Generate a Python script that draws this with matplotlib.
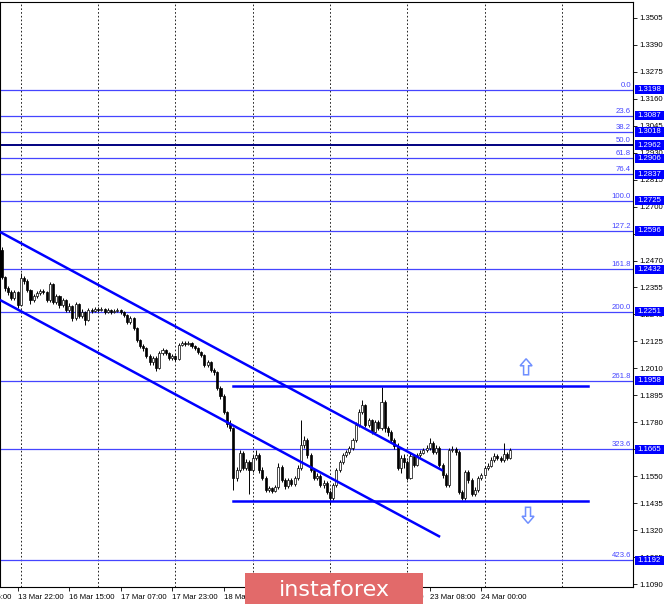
import matplotlib
matplotlib.use('Agg')
import matplotlib.pyplot as plt
from matplotlib.patches import Rectangle, Polygon
from matplotlib.transforms import Affine2D, ScaledTranslation, blended_transform_factory

# ---------------- data ----------------
first_open = 1.2515
closes = [1.2400, 1.2353, 1.2336, 1.2310, 1.2336, 1.2280, 1.2395, 1.2383, 1.2344, 1.2302,
          1.2319, 1.2332, 1.2340, 1.2336, 1.2302, 1.2370, 1.2293, 1.2319, 1.2280, 1.2302,
          1.2259, 1.2276, 1.2225, 1.2285, 1.2234, 1.2250, 1.2217, 1.2259, 1.2255, 1.2263,
          1.2259, 1.2263, 1.2250, 1.2259, 1.2250, 1.2255, 1.2259, 1.2250, 1.2238, 1.2208,
          1.2225, 1.2183, 1.2131, 1.2106, 1.2097, 1.2063, 1.2038, 1.2055, 1.2012, 1.2076,
          1.2089, 1.2076, 1.2055, 1.2063, 1.2050, 1.2110, 1.2119, 1.2114, 1.2119, 1.2106,
          1.2097, 1.2080, 1.2067, 1.2025, 1.2038, 1.2004, 1.1995, 1.1927, 1.1893, 1.1824,
          1.1773, 1.1756, 1.1544, 1.1578, 1.1650, 1.1586, 1.1612, 1.1578, 1.1629, 1.1641,
          1.1578, 1.1544, 1.1492, 1.1501, 1.1488, 1.1505, 1.1590, 1.1535, 1.1510, 1.1535,
          1.1518, 1.1544, 1.1586, 1.1684, 1.1705, 1.1641, 1.1578, 1.1544, 1.1552, 1.1514,
          1.1522, 1.1484, 1.1458, 1.1514, 1.1578, 1.1612, 1.1641, 1.1654, 1.1671, 1.1705,
          1.1769, 1.1824, 1.1854, 1.1769, 1.1790, 1.1739, 1.1782, 1.1756, 1.1867, 1.1756,
          1.1739, 1.1705, 1.1680, 1.1586, 1.1629, 1.1612, 1.1544, 1.1637, 1.1599, 1.1641,
          1.1650, 1.1663, 1.1671, 1.1692, 1.1654, 1.1671, 1.1599, 1.1556, 1.1514, 1.1663,
          1.1667, 1.1654, 1.1484, 1.1458, 1.1569, 1.1535, 1.1475, 1.1492, 1.1544, 1.1556,
          1.1586, 1.1595, 1.1620, 1.1637, 1.1629, 1.1620, 1.1646, 1.1629, 1.1663]
highs = [1.2528, 1.2405, 1.2362, 1.2345, 1.2345, 1.2340, 1.2417, 1.2405, 1.2390, 1.2350,
         1.2327, 1.2340, 1.2348, 1.2350, 1.2340, 1.2378, 1.2375, 1.2327, 1.2323, 1.2310,
         1.2306, 1.2289, 1.2280, 1.2293, 1.2289, 1.2263, 1.2255, 1.2267, 1.2267, 1.2272,
         1.2270, 1.2272, 1.2267, 1.2267, 1.2263, 1.2263, 1.2267, 1.2263, 1.2255, 1.2242,
         1.2234, 1.2230, 1.2187, 1.2136, 1.2114, 1.2102, 1.2072, 1.2063, 1.2063, 1.2085,
         1.2097, 1.2093, 1.2080, 1.2072, 1.2068, 1.2119, 1.2127, 1.2125, 1.2125, 1.2123,
         1.2110, 1.2102, 1.2085, 1.2072, 1.2046, 1.2042, 1.2012, 1.2000, 1.1935, 1.1900,
         1.1830, 1.1790, 1.1760, 1.1590, 1.1663, 1.1658, 1.1625, 1.1620, 1.1641, 1.1663,
         1.1650, 1.1590, 1.1550, 1.1510, 1.1505, 1.1514, 1.1605, 1.1599, 1.1544, 1.1544,
         1.1544, 1.1552, 1.1599, 1.1790, 1.1720, 1.1713, 1.1650, 1.1586, 1.1565, 1.1560,
         1.1535, 1.1530, 1.1492, 1.1522, 1.1586, 1.1620, 1.1650, 1.1663, 1.1680, 1.1713,
         1.1780, 1.1835, 1.1876, 1.1860, 1.1800, 1.1795, 1.1790, 1.1790, 1.1931, 1.1875,
         1.1765, 1.1748, 1.1713, 1.1690, 1.1641, 1.1646, 1.1620, 1.1650, 1.1646, 1.1650,
         1.1663, 1.1671, 1.1684, 1.1713, 1.1700, 1.1684, 1.1680, 1.1607, 1.1565, 1.1671,
         1.1680, 1.1675, 1.1663, 1.1490, 1.1578, 1.1578, 1.1544, 1.1505, 1.1552, 1.1565,
         1.1595, 1.1607, 1.1633, 1.1650, 1.1646, 1.1637, 1.1692, 1.1654, 1.1671]
lows = [1.2391, 1.2340, 1.2325, 1.2300, 1.2302, 1.2267, 1.2276, 1.2370, 1.2336, 1.2285,
        1.2293, 1.2310, 1.2325, 1.2327, 1.2293, 1.2293, 1.2285, 1.2285, 1.2267, 1.2272,
        1.2250, 1.2250, 1.2213, 1.2217, 1.2225, 1.2225, 1.2195, 1.2213, 1.2246, 1.2250,
        1.2250, 1.2255, 1.2242, 1.2246, 1.2242, 1.2246, 1.2250, 1.2242, 1.2230, 1.2200,
        1.2200, 1.2174, 1.2123, 1.2097, 1.2085, 1.2055, 1.2025, 1.2025, 1.1999, 1.2008,
        1.2068, 1.2068, 1.2046, 1.2046, 1.2042, 1.2046, 1.2106, 1.2106, 1.2110, 1.2097,
        1.2089, 1.2072, 1.2059, 1.2016, 1.2016, 1.1995, 1.1982, 1.1918, 1.1880, 1.1815,
        1.1760, 1.1745, 1.1492, 1.1530, 1.1569, 1.1575, 1.1575, 1.1475, 1.1570, 1.1620,
        1.1565, 1.1535, 1.1484, 1.1484, 1.1480, 1.1484, 1.1497, 1.1526, 1.1497, 1.1501,
        1.1510, 1.1510, 1.1535, 1.1578, 1.1671, 1.1629, 1.1569, 1.1535, 1.1535, 1.1505,
        1.1501, 1.1475, 1.1429, 1.1450, 1.1505, 1.1569, 1.1603, 1.1633, 1.1646, 1.1663,
        1.1697, 1.1760, 1.1815, 1.1760, 1.1760, 1.1730, 1.1730, 1.1748, 1.1748, 1.1740,
        1.1720, 1.1697, 1.1667, 1.1575, 1.1565, 1.1586, 1.1535, 1.1540, 1.1590, 1.1595,
        1.1633, 1.1646, 1.1654, 1.1663, 1.1646, 1.1646, 1.1590, 1.1544, 1.1505, 1.1505,
        1.1654, 1.1641, 1.1475, 1.1450, 1.1450, 1.1522, 1.1467, 1.1467, 1.1484, 1.1535,
        1.1550, 1.1578, 1.1590, 1.1612, 1.1620, 1.1612, 1.1612, 1.1620, 1.1624]

fib_labels = ['0.0', '23.6', '38.2', '50.0', '61.8', '76.4', '100.0', '127.2',
              '161.8', '200.0', '261.8', '323.6', '423.6']
fib_prices = [1.3198, 1.3087, 1.3018, 1.2962, 1.2906, 1.2837, 1.2725, 1.2596,
              1.2432, 1.2251, 1.1958, 1.1665, 1.1192]

ytick_values = [1.3505, 1.3390, 1.3275, 1.3160, 1.3045, 1.2930, 1.2815, 1.2700,
                1.2585, 1.2470, 1.2355, 1.2240, 1.2125, 1.2010, 1.1895, 1.1780,
                1.1665, 1.1550, 1.1435, 1.1320, 1.1205, 1.1090]

xtick_bars = [-11, 5, 21, 37, 53, 69, 85, 101, 117, 133, 149]
xtick_labels = ['13 Mar 06:00', '13 Mar 22:00', '16 Mar 15:00', '17 Mar 07:00',
                '17 Mar 23:00', '18 Mar 15:00', '19 Mar 07:00', '19 Mar 23:00',
                '20 Mar 15:00', '23 Mar 08:00', '24 Mar 00:00']
grid_bars = [6, 30, 54, 78, 102, 126, 150, 174]

channel_upper_x = [-0.5, 137.1]
channel_upper_y = [1.2592, 1.1574]
channel_lower_x = [-0.5, 136.2]
channel_lower_y = [1.2302, 1.1292]
level_x = [71.9, 182.1]
resistance_price = 1.1936
support_price = 1.1447
arrow_up_at = (162.9, 1.2017)
arrow_down_at = (163.5, 1.1384)

# ---------------- figure ----------------
W, H = 665, 604
fig = plt.figure(figsize=(W / 100, H / 100), dpi=100)
fig.patch.set_facecolor('white')
ax = fig.add_axes([0, 17 / H, 633 / W, 585 / H])
ax.set_facecolor('white')

font = ['Liberation Sans', 'DejaVu Sans']
fs = 5.6

# candles
opens = [first_open] + closes[:-1]
for i, (o, c, h, l) in enumerate(zip(opens, closes, highs, lows)):
    h = max(h, o, c)
    l = min(l, o, c)
    ax.vlines(i, l, h, color='black', lw=0.7, zorder=3)
    bot = min(o, c)
    hgt = max(abs(c - o), 0.00012)
    fc = 'white' if c >= o else 'black'
    ax.add_patch(Rectangle((i - 0.32, bot), 0.64, hgt, facecolor=fc,
                           edgecolor='black', lw=0.5, zorder=4))

# grid
for gb in grid_bars:
    ax.axvline(gb, color='black', lw=0.6, ls=(0, (2, 2.5)), zorder=1)

# fib lines
blend = blended_transform_factory(ax.transAxes, ax.transData)
for lab, p in zip(fib_labels, fib_prices):
    col = '#000080' if lab == '50.0' else '#4545ff'
    lw = 1.4 if lab == '50.0' else 0.9
    ax.axhline(p, color=col, lw=lw, zorder=2)
    ax.text(0.997, p + 0.0004, lab, transform=blend, ha='right', va='bottom',
            color='#4545ff', fontsize=fs, family=font, zorder=5)

# channel and levels
ax.plot(channel_upper_x, channel_upper_y, color='#0000ff', lw=1.8, zorder=5,
        solid_capstyle='butt')
ax.plot(channel_lower_x, channel_lower_y, color='#0000ff', lw=1.8, zorder=5,
        solid_capstyle='butt')
ax.plot(level_x, [resistance_price] * 2, color='#0000ff', lw=1.8, zorder=5)
ax.plot(level_x, [support_price] * 2, color='#0000ff', lw=1.8, zorder=5)


def px_at(x, y, base):
    return Affine2D() + ScaledTranslation(x, y, base)


up_shape = [(0, 8), (-6, 1), (-2.5, 1), (-2.5, -8), (2.5, -8), (2.5, 1), (6, 1)]
down_shape = [(vx, -vy) for vx, vy in up_shape]
ax.add_patch(Polygon(up_shape, closed=True, fill=False, ec='#6f8fff', lw=1.1,
                     transform=px_at(*arrow_up_at, ax.transData), zorder=6))
ax.add_patch(Polygon(down_shape, closed=True, fill=False, ec='#6f8fff', lw=1.1,
                     transform=px_at(*arrow_down_at, ax.transData), zorder=6))

# axes styling
for s in ax.spines.values():
    s.set_color('black')
    s.set_linewidth(0.8)
ax.yaxis.tick_right()
ax.set_yticks(ytick_values)
ax.set_yticklabels([f'{v:.4f}' for v in ytick_values], family=font, fontsize=fs)
ax.tick_params(axis='y', direction='out', length=3, width=0.6, pad=1.5, colors='black')
ax.set_xticks(xtick_bars[1:])
ax.set_xticklabels(xtick_labels[1:], family=font, fontsize=fs, ha='left')
ax.tick_params(axis='x', direction='out', length=3, width=0.6, pad=2, colors='black')
ax.set_xlim(-0.47, 196.1)
ax.set_ylim(1.10783, 1.35719)

# first (partly cut) time label left of the plot
xblend = blended_transform_factory(ax.transData, ax.transAxes)
ax.annotate(xtick_labels[0], xy=(xtick_bars[0], 0), xycoords=xblend,
            xytext=(0, -5), textcoords='offset points', ha='left', va='top',
            family=font, fontsize=fs, annotation_clip=False)

# price boxes on the right
for p in fib_prices:
    T = px_at(1.0, p, blend)
    ax.add_patch(Rectangle((1.5, -4.6), 29.5, 9.2, transform=T, facecolor='#0000ff',
                           edgecolor='none', clip_on=False, zorder=10))
    ax.text(4.5, 0, f'{p:.4f}', transform=T, ha='left', va='center', color='white',
            fontsize=fs, family=font, clip_on=False, zorder=11)

# watermark
fig.patches.append(Rectangle((245 / W, 0), (423 - 245) / W, 31 / H,
                             transform=fig.transFigure, facecolor='#e26a6a',
                             edgecolor='none', zorder=20))
fig.text(334 / W, 14.5 / H, 'instaforex', ha='center', va='center', color='white',
         fontsize=16, family=['Liberation Sans Narrow', 'DejaVu Sans'], zorder=21)

fig.savefig('out.png', dpi=100, facecolor='white')
